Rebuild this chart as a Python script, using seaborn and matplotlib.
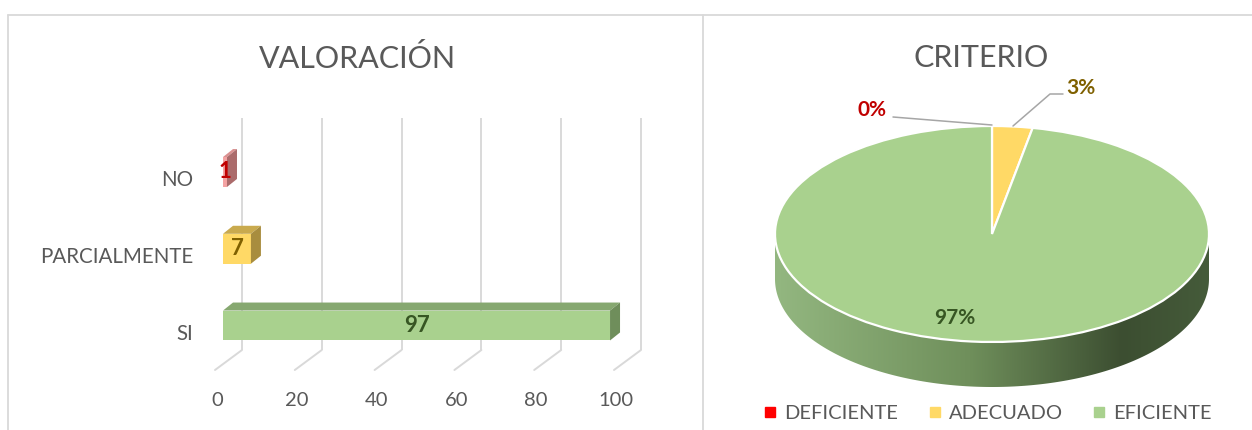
import numpy as np
import pandas as pd
import matplotlib
matplotlib.use("Agg")
import matplotlib.pyplot as plt
import seaborn as sns
from matplotlib.patches import Polygon
from matplotlib.lines import Line2D
from matplotlib.colors import LinearSegmentedColormap

# ---------------- data ----------------
bar_categories = ["NO", "PARCIALMENTE", "SI"]
bar_values = [1, 7, 97]
x_ticks = [0, 20, 40, 60, 80, 100]
bar_front_colors = ["#f4a3a3", "#ffd966", "#a9d18e"]
bar_top_colors = ["#d99090", "#c9aa4e", "#86a870"]
bar_side_colors = ["#ab6b6b", "#a88d3e", "#6f8e5b"]
bar_label_colors = ["#c00000", "#7f6000", "#375623"]

pie_categories = ["DEFICIENTE", "ADECUADO", "EFICIENTE"]
pie_values = [0, 3, 97]
pie_colors = ["#ff0000", "#ffd966", "#a9d18e"]
pie_label_colors = ["#c00000", "#7f6000", "#375623"]

# ---------------- setup ----------------
W, H = 1252, 430
sns.set_theme(style="white")
plt.rcParams["font.family"] = ["Lato", "DejaVu Sans"]
TXT = "#595959"
GRID = "#d9d9d9"

fig = plt.figure(figsize=(W / 100, H / 100), dpi=100)


def fx(px):
    return px / W


def fy(py):
    return 1 - py / H


# outer frame lines
for (x0, y0, x1, y1) in [(8, 14.5, W, 14.5), (8, 14.5, 8, H), (703, 14.5, 703, H)]:
    fig.add_artist(Line2D([fx(x0), fx(x1)], [fy(y0), fy(y1)], color=GRID, lw=1.3))

# titles
fig.text(fx(357), fy(58), "VALORACIÓN", ha="center", va="center", fontsize=22, color=TXT)
fig.text(fx(981), fy(58), "CRITERIO", ha="center", va="center", fontsize=22, color=TXT)

# ---------------- left: 3D-looking horizontal bars ----------------
L, R, T, B = 223, 622, 118, 378
XS = (R - L) / 100.0      # px per value unit
YC0, YS = 172.0, 76.75    # px of first category centre, px per category


def yd(py):
    return (py - YC0) / YS


ax = fig.add_axes([fx(L), fy(B), fx(R) - fx(L), fy(T) - fy(B)])
df = pd.DataFrame({"cat": bar_categories, "val": bar_values})
sns.barplot(data=df, x="val", y="cat", hue="cat", palette=bar_front_colors,
            orient="h", width=0.39, saturation=1, legend=False, ax=ax,
            zorder=3, linewidth=0)
ax.set_xlim(0, 100)
ax.set_ylim(yd(B), yd(T))
ax.set_axis_off()

# back wall gridlines + floor diagonals + tick labels
gx_back = 19 / XS
gx_front = -8 / XS
for t in x_ticks:
    ax.plot([t + gx_back, t + gx_back], [yd(T), yd(350)], color=GRID, lw=1.4,
            zorder=1, clip_on=False, solid_capstyle="butt")
    ax.plot([t + gx_back, t + gx_front], [yd(350), yd(370)], color=GRID, lw=1.4,
            zorder=1, clip_on=False)
    ax.text(t - 6 / XS, yd(401), f"{t}", ha="center", va="center",
            fontsize=14.5, color=TXT)

# depth faces
DX, DY = 10 / XS, 8 / YS
patches = sorted(ax.patches, key=lambda p: p.get_y())
for i, p in enumerate(patches):
    x0, w, y0, h = p.get_x(), p.get_width(), p.get_y(), p.get_height()
    top = Polygon([(x0, y0), (x0 + w, y0), (x0 + w + DX, y0 - DY), (x0 + DX, y0 - DY)],
                  closed=True, facecolor=bar_top_colors[i], edgecolor="none",
                  zorder=3, clip_on=False)
    side = Polygon([(x0 + w, y0), (x0 + w + DX, y0 - DY), (x0 + w + DX, y0 + h - DY),
                    (x0 + w, y0 + h)], closed=True, facecolor=bar_side_colors[i],
                   edgecolor="none", zorder=3, clip_on=False)
    ax.add_patch(top)
    ax.add_patch(side)
    ax.text(x0 + w / 2, y0 + h / 2, f"{bar_values[i]}", ha="center", va="center",
            fontsize=16, fontweight="bold", color=bar_label_colors[i], zorder=5)

# category labels
for i, c in enumerate(bar_categories):
    ax.text(-30 / XS, i + 8 / YS, c, ha="right", va="center", fontsize=14.8, color=TXT)

# ---------------- right: 3D-looking pie ----------------
CX, CY, A, Bb, D = 992, 234, 217, 108, 45
d = D / Bb
PAD = 1.05
ax2 = fig.add_axes([fx(CX - A * PAD), fy(CY + Bb + D), 2 * A * PAD / W, (2 * Bb + D) / H])
ax2.pie(pie_values, colors=pie_colors, startangle=90, counterclock=False, radius=1,
        wedgeprops=dict(edgecolor="white", linewidth=1.6), frame=False)
ax2.set_aspect("auto")
ax2.set_xlim(-PAD, PAD)
ax2.set_ylim(-1 - d, 1)
ax2.set_axis_off()

# pie side wall with gradient
th = np.linspace(np.pi, 2 * np.pi, 200)
side_pts = np.vstack([np.column_stack([np.cos(th), np.sin(th)]),
                      np.column_stack([np.cos(th[::-1]), np.sin(th[::-1]) - d])])
side_poly = Polygon(side_pts, closed=True, facecolor="none", edgecolor="none")
ax2.add_patch(side_poly)
cmap = LinearSegmentedColormap.from_list(
    "side", [(0, "#93b780"), (0.45, "#6f8f5b"), (0.8, "#3c4e31"), (1.0, "#455b3a")])
grad = np.linspace(0, 1, 256).reshape(1, -1)
im = ax2.imshow(grad, cmap=cmap, extent=(-1, 1, -1 - d, 0), aspect="auto", zorder=0.5)
im.set_clip_path(side_poly)


def px2(xp, yp):
    return (xp - CX) / A, (CY - yp) / Bb


total = sum(pie_values)
pct = [f"{v / total * 100:.0f}%" for v in pie_values]
label_pos = [(872, 110), (1081, 88), (955, 318)]
for i, (xp, yp) in enumerate(label_pos):
    x, y = px2(xp, yp)
    ax2.text(x, y, pct[i], ha="center", va="center", fontsize=15, fontweight="bold",
             color=pie_label_colors[i], zorder=6)

# leader lines
for pts in [[(893, 117), (992, 125)], [(1063, 94), (1050, 94), (1013, 126)]]:
    xs, ys = zip(*[px2(a, b) for a, b in pts])
    ax2.plot(xs, ys, color="#a6a6a6", lw=1.1, clip_on=False, zorder=6)

# legend
handles = [Line2D([], [], marker="s", linestyle="", markersize=7, color=c) for c in pie_colors]
fig.legend(handles, pie_categories, loc="center", bbox_to_anchor=(fx(986), fy(413)),
           ncol=3, frameon=False, fontsize=14.5, handletextpad=0.2, columnspacing=1.3,
           labelcolor=TXT, handlelength=1.0)

fig.savefig("out.png", dpi=100, facecolor="white")
